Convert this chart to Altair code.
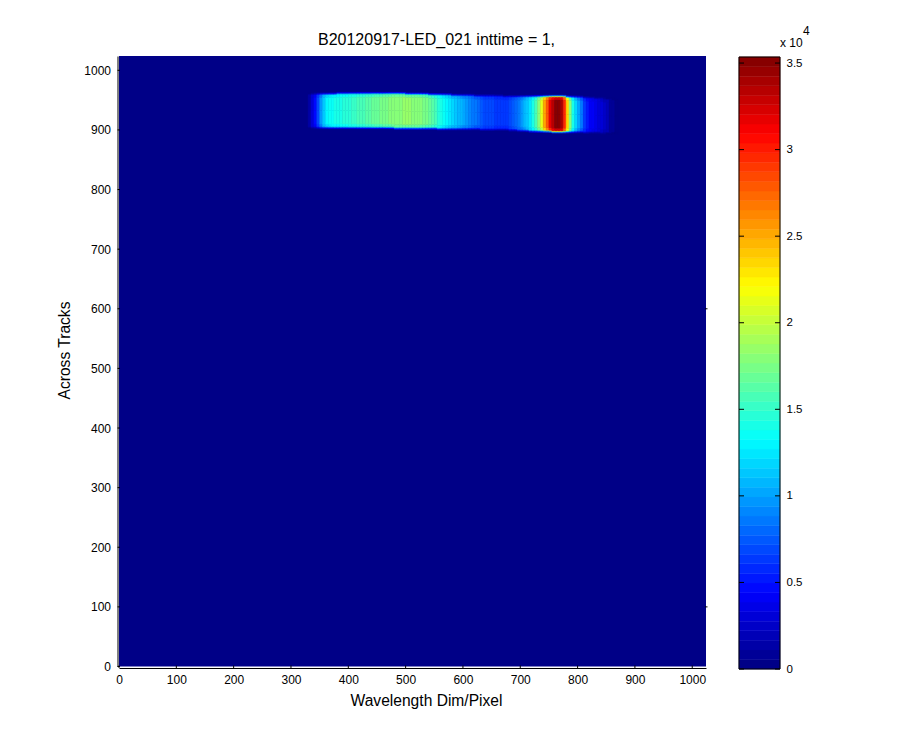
import altair as alt
import pandas as pd

FONT = "Liberation Sans"
TITLE = "B20120917-LED_021 inttime = 1,"
X_TITLE = "Wavelength Dim/Pixel"
Y_TITLE = "Across Tracks"

X_TICKS = [0, 100, 200, 300, 400, 500, 600, 700, 800, 900, 1000]
Y_TICKS = [0, 100, 200, 300, 400, 500, 600, 700, 800, 900, 1000]
Y_RIGHT_TICKS = [100, 600]
CB_TICKS = [0, 5000, 10000, 15000, 20000, 25000, 30000, 35000]
IMG_MAX = 1024
CB_MAX = 35350
N_COLORS = 64

# Left edge of each column of the lit band (330, 335, ... 870)
WAVE = list(range(330, 875, 5))
# Brightness in the middle of the band
CORE = [
    1500, 3000, 4500, 7000, 9500, 11500, 12800, 13500, 13800, 14000,
    14200, 14300, 14500, 14700, 14900, 15100, 15300, 15500, 15800, 16000,
    16200, 16400, 16600, 16800, 17000, 17200, 17400, 17600, 17700, 17900,
    18000, 18100, 18200, 18300, 18300, 18300, 18200, 18100, 18000, 17800,
    17600, 17200, 16800, 16200, 15500, 14900, 14200, 13600, 13000, 12400,
    11800, 11300, 11000, 10500, 10000, 9600, 9200, 8700, 8300, 7900,
    7500, 7100, 7000, 6800, 6700, 6500, 6400, 6400, 6400, 6500,
    6800, 7300, 7900, 8700, 9500, 10500, 11500, 12700, 14000, 15500,
    18000, 21000, 25000, 28000, 31500, 33500, 35000, 35000, 34000, 29500,
    23500, 18000, 14000, 11800, 10000, 8300, 6500, 5000, 4400, 4000,
    3600, 3200, 2800, 2300, 1800, 1100, 600, 200,
]
TOP = [
    960, 960, 960, 960, 960, 960, 960, 960, 960, 960,
    961, 961, 961, 961, 961, 961, 961, 961, 961, 961,
    961, 961, 961, 961, 961, 961, 961, 961, 961, 961,
    961, 961, 961, 961, 960, 960, 960, 960, 960, 960,
    960, 960, 959, 959, 959, 959, 959, 959, 959, 959,
    958, 958, 958, 958, 958, 958, 958, 958, 957, 957,
    957, 957, 957, 957, 957, 957, 957, 957, 956, 956,
    956, 956, 956, 956, 956, 956, 956, 956, 956, 956,
    956, 956, 956, 956, 956, 956, 956, 956, 956, 956,
    955, 955, 955, 955, 955, 955, 954, 954, 954, 954,
    953, 953, 953, 952, 952, 952, 951, 951,
]
BOTTOM = [
    904, 904, 904, 904, 904, 904, 904, 904, 904, 904,
    904, 904, 904, 904, 904, 904, 904, 904, 904, 904,
    904, 904, 904, 904, 904, 904, 904, 904, 904, 904,
    903, 903, 903, 903, 903, 903, 903, 903, 903, 903,
    903, 903, 903, 903, 903, 902, 902, 902, 902, 902,
    902, 902, 902, 902, 902, 902, 902, 902, 902, 902,
    901, 901, 901, 901, 901, 901, 901, 901, 901, 901,
    900, 900, 900, 899, 899, 899, 899, 898, 898, 898,
    898, 898, 898, 898, 898, 897, 897, 897, 897, 897,
    897, 897, 897, 897, 897, 897, 896, 896, 896, 896,
    896, 896, 895, 895, 895, 895, 895, 895,
]
# Across the band: distance inward from its edge, and brightness relative to the core
EDGE_DEPTH = [-2, 0, 1.5, 6]
EDGE_LEVEL = [0.25, 0.6, 0.93, 1.0]


def jet(i, n):
    v = (i + 0.5) / n
    def c(p):
        return max(0.0, min(1.0, 1.5 - abs(4 * v - p)))
    r, g, b = c(3), c(2), c(1)
    return "#%02x%02x%02x" % (round(r * 255), round(g * 255), round(b * 255))


JET = [jet(i, N_COLORS) for i in range(N_COLORS)]
color_scale = alt.Scale(type="quantize", domain=[0, CB_MAX], range=JET)

cells = []
for i, core in enumerate(CORE):
    x0, x1, top, bot = WAVE[i], WAVE[i + 1], TOP[i], BOTTOM[i]
    mid = (top + bot) / 2
    for j, lev in enumerate(EDGE_LEVEL):
        d0 = EDGE_DEPTH[j]
        inner = j + 1 < len(EDGE_DEPTH)
        d1t = EDGE_DEPTH[j + 1] if inner else top - mid
        d1b = EDGE_DEPTH[j + 1] if inner else mid - bot
        cells.append(dict(x=x0, x2=x1, y=top - d0, y2=top - d1t, v=core * lev))
        cells.append(dict(x=x0, x2=x1, y=bot + d0, y2=bot + d1b, v=core * lev))
band = pd.DataFrame(cells)

bg = pd.DataFrame([dict(x=0, x2=IMG_MAX, y=0, y2=IMG_MAX, v=0)])
step = CB_MAX / N_COLORS
cb = pd.DataFrame(
    [dict(y=i * step, y2=(i + 1) * step, v=(i + 0.5) * step) for i in range(N_COLORS)]
)

W = 661
H = 613
x_sc = alt.Scale(domain=[0, IMG_MAX], range=[0, 587])
y_sc = alt.Scale(domain=[0, IMG_MAX], range=[610.5, 0])
cb_sc = alt.Scale(domain=[0, CB_MAX], range=[613, 1])

base_axis = dict(
    labelFont=FONT, labelFontSize=12, labelColor="black",
    titleFont=FONT, titleFontSize=15.6, titleFontWeight="normal", titleColor="black",
    domainColor="black", domainWidth=1, ticks=False, grid=False, format="d",
    labelOverlap=False,
)
x_axis = alt.Axis(values=X_TICKS, title=X_TITLE, offset=-1, labelPadding=6,
                  titleX=307, titleY=25, labelFlush=False, **base_axis)

bg_layer = alt.Chart(bg).mark_rect().encode(
    x=alt.X("x:Q", scale=x_sc, axis=x_axis),
    x2="x2:Q",
    y=alt.Y("y:Q", scale=y_sc,
            axis=alt.Axis(values=Y_TICKS, title=Y_TITLE, orient="left", offset=1.5, labelPadding=7,
                          titleX=-45, titleY=294, **base_axis)),
    y2="y2:Q",
    color=alt.Color("v:Q", scale=color_scale, legend=None),
)

band_layer = alt.Chart(band).mark_rect(strokeWidth=0.5).encode(
    x=alt.X("x:Q", scale=x_sc, axis=x_axis),
    x2="x2:Q",
    y=alt.Y("y:Q", scale=y_sc, axis=None),
    y2="y2:Q",
    color=alt.Color("v:Q", scale=color_scale, legend=None),
    stroke=alt.Color("v:Q", scale=color_scale, legend=None),
)

x_tick_layer = alt.Chart(pd.DataFrame({"t": X_TICKS})).mark_rule(color="black").encode(
    x=alt.X("t:Q", scale=x_sc, axis=x_axis), y=alt.value(609.5), y2=alt.value(612)
)
y_tick_layer = alt.Chart(pd.DataFrame({"t": Y_TICKS})).mark_rule(color="black").encode(
    y=alt.Y("t:Q", scale=y_sc, axis=None), x=alt.value(-1.5), x2=alt.value(1)
)
y_right_layer = alt.Chart(pd.DataFrame({"t": Y_RIGHT_TICKS})).mark_rule(color="black").encode(
    y=alt.Y("t:Q", scale=y_sc, axis=None), x=alt.value(586), x2=alt.value(588.5)
)

cb_layer = alt.Chart(cb).mark_rect(strokeWidth=0.5).encode(
    x=alt.value(620), x2=alt.value(661),
    y=alt.Y("y:Q", scale=cb_sc,
            axis=alt.Axis(values=CB_TICKS, orient="right", title=None, labelPadding=6,
                          labelExpr="datum.value / 10000", labelOverlap=False,
                          labelFont=FONT, labelFontSize=11.5, labelColor="black",
                          domain=False, ticks=False, grid=False)),
    y2="y2:Q",
    color=alt.Color("v:Q", scale=color_scale, legend=None),
    stroke=alt.Color("v:Q", scale=color_scale, legend=None),
)
cb_box = alt.Chart(pd.DataFrame({"a": [0]})).mark_rect(fill=None, stroke="black", strokeWidth=1).encode(
    x=alt.value(620), x2=alt.value(661), y=alt.value(1), y2=alt.value(613)
)
cb_t = pd.DataFrame({"t": CB_TICKS})
cb_tick_l = alt.Chart(cb_t).mark_rule(color="black").encode(
    y=alt.Y("t:Q", scale=cb_sc, axis=None), x=alt.value(620), x2=alt.value(625)
)
cb_tick_r = alt.Chart(cb_t).mark_rule(color="black").encode(
    y=alt.Y("t:Q", scale=cb_sc, axis=None), x=alt.value(656), x2=alt.value(661)
)
x10 = alt.Chart(pd.DataFrame({"s": ["x 10"]})).mark_text(
    font=FONT, fontSize=12, align="left", baseline="middle", color="black"
).encode(text="s:N", x=alt.value(661), y=alt.value(-13))
exp4 = alt.Chart(pd.DataFrame({"s": ["4"]})).mark_text(
    font=FONT, fontSize=12, align="left", baseline="middle", color="black"
).encode(text="s:N", x=alt.value(684), y=alt.value(-25))

chart = alt.layer(
    bg_layer, band_layer, x_tick_layer, y_tick_layer, y_right_layer,
    cb_layer, cb_box, cb_tick_l, cb_tick_r, x10, exp4,
).resolve_scale(
    x="shared", y="independent", color="shared", stroke="shared"
).resolve_axis(y="independent").properties(
    width=W, height=H,
    title=alt.Title(TITLE, font=FONT, fontSize=16, fontWeight="normal", color="black",
                    anchor="middle", dx=-13, offset=-23),
    autosize=alt.AutoSizeParams(type="none"),
    padding={"left": 111, "top": 48, "right": 100, "bottom": 50},
    background="white",
).configure_view(stroke=None)

chart.save("out.html", embed_options={"renderer": "svg", "actions": False})
